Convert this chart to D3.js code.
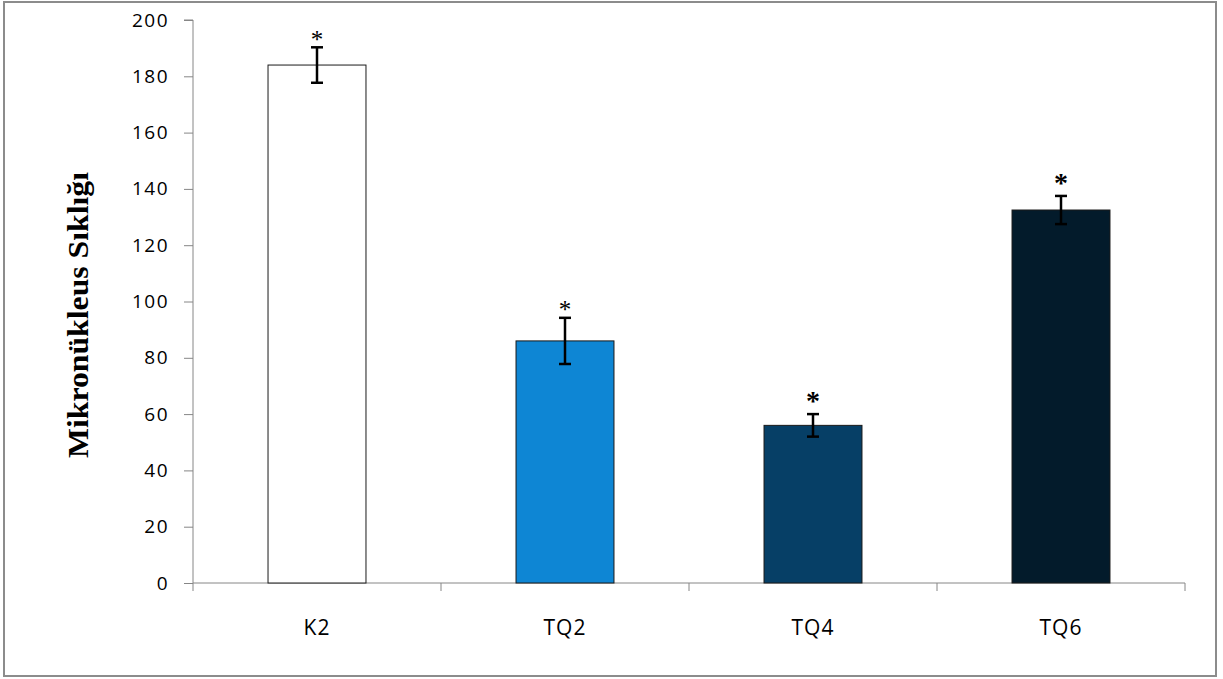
<!DOCTYPE html>
<html>
<head>
<meta charset="utf-8">
<script src="https://cdn.jsdelivr.net/npm/d3@7"></script>
<style>
  body { margin: 0; background: #fff; }
  svg { display: block; }
</style>
</head>
<body>
<svg id="chart" width="1223" height="679"></svg>
<script>
// data
const groups = ["K2", "TQ2", "TQ4", "TQ6"];
const means = [184, 86, 56, 132.5];
const errors = [6.3, 8.2, 4, 5];
const colors = ["#ffffff", "#0e86d4", "#063f66", "#031b2b"];
const starBold = [false, false, true, true];
const yTicks = [0, 20, 40, 60, 80, 100, 120, 140, 160, 180, 200];

const svg = d3.select("#chart");
const plotLeft = 193, plotRight = 1185, plotTop = 20, plotBottom = 583;
const tickFont = "'Open Sans', Lato, sans-serif";

// outer frame
svg.append("rect")
    .attr("x", 4).attr("y", 2)
    .attr("width", 1212).attr("height", 674)
    .attr("fill", "#fff")
    .attr("stroke", "#8c8c8c")
    .attr("stroke-width", 2);

const x = d3.scaleBand().domain(groups).range([plotLeft, plotRight]).paddingInner(0.605).paddingOuter(0.3025);
const y = d3.scaleLinear().domain([0, 200]).range([plotBottom, plotTop]);

// y axis
const yAxis = svg.append("g")
    .attr("transform", `translate(${plotLeft},0)`)
    .call(d3.axisLeft(y).tickValues(yTicks).tickSize(9).tickPadding(15));
yAxis.select(".domain").attr("stroke", "#868686").attr("d", `M-9,${plotTop}H0V${plotBottom}`);
yAxis.selectAll(".tick line").attr("stroke", "#868686");
yAxis.selectAll(".tick text")
    .attr("font-family", tickFont)
    .attr("font-size", 19)
    .attr("letter-spacing", 1.5)
    .attr("fill", "#000");

// x axis baseline and category separators
const bounds = groups.map(g => x(g) - x.step() * x.paddingInner() / 2).concat([plotRight]);
svg.append("line")
    .attr("x1", plotLeft).attr("x2", plotRight)
    .attr("y1", plotBottom).attr("y2", plotBottom)
    .attr("stroke", "#868686");
svg.selectAll(".xsep")
    .data(bounds)
    .join("line")
    .attr("class", "xsep")
    .attr("x1", d => d).attr("x2", d => d)
    .attr("y1", plotBottom).attr("y2", plotBottom + 8)
    .attr("stroke", "#868686");

svg.selectAll(".xlab")
    .data(groups)
    .join("text")
    .attr("class", "xlab")
    .attr("x", d => x(d) + x.bandwidth() / 2)
    .attr("y", 635)
    .attr("text-anchor", "middle")
    .attr("font-family", tickFont)
    .attr("font-size", 21)
    .attr("letter-spacing", 1)
    .text(d => d);

// bars
svg.selectAll(".bar")
    .data(groups)
    .join("rect")
    .attr("class", "bar")
    .attr("x", d => x(d))
    .attr("y", (d, i) => y(means[i]))
    .attr("width", x.bandwidth())
    .attr("height", (d, i) => y(0) - y(means[i]))
    .attr("fill", (d, i) => colors[i])
    .attr("stroke", "#1a1a1a")
    .attr("stroke-width", 1);

// error bars
const eb = svg.selectAll(".err")
    .data(groups)
    .join("g")
    .attr("class", "err")
    .attr("transform", d => `translate(${x(d) + x.bandwidth() / 2},0)`);
eb.append("line")
    .attr("y1", (d, i) => y(means[i] + errors[i]))
    .attr("y2", (d, i) => y(means[i] - errors[i]))
    .attr("stroke", "#000").attr("stroke-width", 2.5);
eb.append("line")
    .attr("x1", -6).attr("x2", 6)
    .attr("y1", (d, i) => y(means[i] + errors[i]))
    .attr("y2", (d, i) => y(means[i] + errors[i]))
    .attr("stroke", "#000").attr("stroke-width", 2.5);
eb.append("line")
    .attr("x1", -6).attr("x2", 6)
    .attr("y1", (d, i) => y(means[i] - errors[i]))
    .attr("y2", (d, i) => y(means[i] - errors[i]))
    .attr("stroke", "#000").attr("stroke-width", 2.5);

// significance stars
eb.append("text")
    .attr("y", (d, i) => {
        const fs = starBold[i] ? 28 : 25;
        const gap = starBold[i] ? 16 : 10;
        return y(means[i] + errors[i]) - gap + 0.42 * fs;
    })
    .attr("text-anchor", "middle")
    .attr("font-family", "'Liberation Serif', serif")
    .attr("font-size", (d, i) => starBold[i] ? 28 : 25)
    .attr("font-weight", (d, i) => starBold[i] ? "bold" : "normal")
    .attr("fill", "#000")
    .text("*");

// y axis title
svg.append("text")
    .attr("transform", "translate(88,315) rotate(-90)")
    .attr("text-anchor", "middle")
    .attr("font-family", "'Liberation Serif', 'Times New Roman', serif")
    .attr("font-weight", "bold")
    .attr("font-size", 30)
    .attr("textLength", 286)
    .attr("lengthAdjust", "spacingAndGlyphs")
    .text("Mikronükleus Sıklığı");
</script>
</body>
</html>
